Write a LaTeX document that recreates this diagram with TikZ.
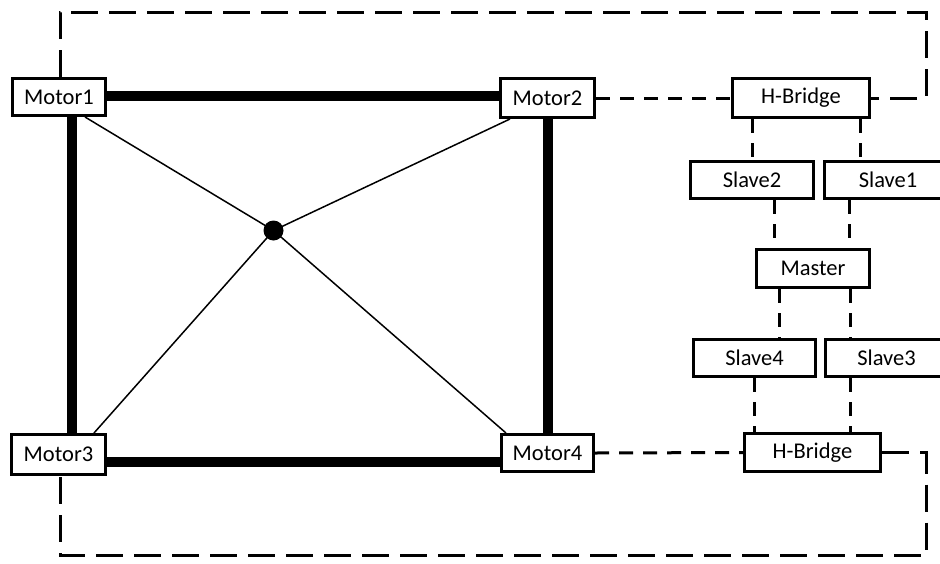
\documentclass[tikz,border=0pt]{standalone}
\usepackage{fontspec}
\setmainfont{Carlito}
\begin{document}
\begin{tikzpicture}[x=1pt,y=-1pt,
  box/.style={draw, line width=3pt, rectangle, inner sep=0pt, fill=white,
    font=\fontsize{22.5}{25}\selectfont},
  thickline/.style={line width=10pt},
  thinline/.style={line width=1.5pt},
  longdash/.style={line width=3pt, dash pattern=on 27pt off 11pt},
  shortdash/.style={line width=3pt, dash pattern=on 14pt off 10pt},
  hub/.style={circle, fill=black, minimum size=20pt, inner sep=0pt}]
\useasboundingbox (0,0) rectangle (940,563);
\clip (0,0) rectangle (940,563);
\fill[white] (0,0) rectangle (940,563);

% nodes
\node[box, minimum width=93pt, minimum height=37pt] (m1) at (59,97) {Motor1};
\node[box, minimum width=94pt, minimum height=39pt] (m2) at (547.5,98) {Motor2};
\node[box, minimum width=94pt, minimum height=40pt] (m3) at (58.5,454.5) {Motor3};
\node[box, minimum width=92pt, minimum height=37pt] (m4) at (547.5,453) {Motor4};
\node[box, minimum width=137pt, minimum height=39pt] (hb1) at (801,98) {H-Bridge};
\node[box, minimum width=123pt, minimum height=37pt] (s2) at (752,180) {Slave2};
\node[box, minimum width=127pt, minimum height=37pt] (s1) at (888,180) {Slave1};
\node[box, minimum width=113pt, minimum height=38pt] (ma) at (813,268.5) {Master};
\node[box, minimum width=122pt, minimum height=37pt] (s4) at (754.5,358) {Slave4};
\node[box, minimum width=122pt, minimum height=37pt] (s3) at (886.5,358) {Slave3};
\node[box, minimum width=136pt, minimum height=38pt] (hb2) at (812.5,452.5) {H-Bridge};
\node[hub] (c) at (273.5,230.5) {};

\coordinate (tr) at (926,12);
\coordinate (br) at (926,555);

% thick frame
\draw[thickline] ([yshift=1pt]m1.east) -- ([yshift=2pt]m2.west);
\draw[thickline] ([xshift=13pt]m1.south) -- ([xshift=13.5pt]m3.north);
\draw[thickline] (m2.south) -- (m4.north);
\draw[thickline] ([yshift=-7.5pt]m3.east) -- ([yshift=-9pt]m4.west);

% thin lines to hub
\draw[thinline] ([xshift=26pt]m1.south) -- (c.center);
\draw[thinline] ([xshift=-37.5pt]m2.south) -- (c.center);
\draw[thinline] ([xshift=35.5pt]m3.north) -- (c.center);
\draw[thinline] ([xshift=-41.5pt]m4.north) -- (c.center);

% dashed loops
\draw[longdash] ([xshift=1pt]m1.north) |- (tr) |- (hb1.east);
\draw[longdash] (hb2.east) -| (br) -| ([xshift=1.5pt]m3.south);

% short dashed links
\draw[shortdash] (m2.east) -- (hb1.west);
\draw[shortdash] (m4.east) -- (hb2.west);
\draw[shortdash] (s2.north |- hb1.south) -- (s2.north);
\draw[shortdash] ([xshift=59pt]hb1.south) -- ([xshift=59pt]hb1.south |- s1.north);
\draw[shortdash] ([xshift=22pt]s2.south) -- ([xshift=22pt]s2.south |- ma.north);
\draw[shortdash] ([xshift=-39pt]s1.south) -- ([xshift=-39pt]s1.south |- ma.north);
\draw[shortdash] ([xshift=-34pt]ma.south) -- ([xshift=-34pt]ma.south |- s4.north);
\draw[shortdash] ([xshift=37pt]ma.south) -- ([xshift=37pt]ma.south |- s3.north);
\draw[shortdash] (s4.south) -- (s4.south |- hb2.north);
\draw[shortdash] ([xshift=-36.5pt]s3.south) -- ([xshift=-36.5pt]s3.south |- hb2.north);
\end{tikzpicture}
\end{document}
